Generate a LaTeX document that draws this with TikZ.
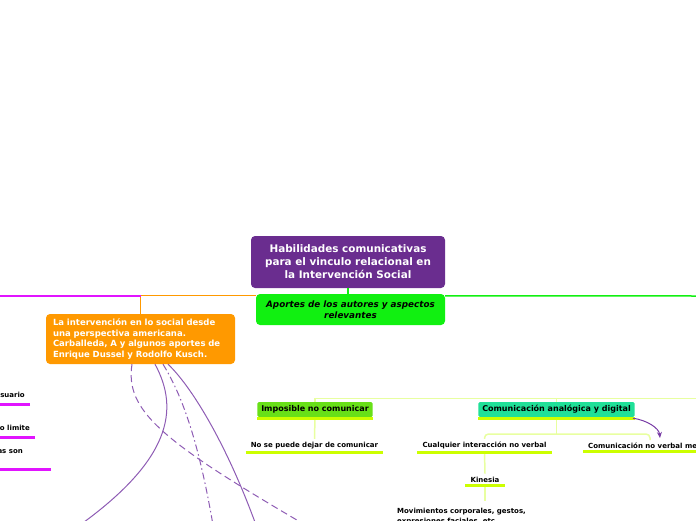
\documentclass[tikz,border=0pt]{standalone}
\usepackage{fontspec}
\setmainfont{DejaVu Sans}
\usetikzlibrary{arrows.meta}

\definecolor{habpurple}{RGB}{106,45,143}
\definecolor{habgreen}{RGB}{17,240,17}
\definecolor{haborange}{RGB}{255,153,0}
\definecolor{hablime}{RGB}{104,224,24}
\definecolor{habteal}{RGB}{32,224,152}
\definecolor{habyellow}{RGB}{204,255,0}
\definecolor{habpale}{RGB}{232,255,160}
\definecolor{habmagenta}{RGB}{225,20,255}
\definecolor{habviolet}{RGB}{142,92,180}
\definecolor{habarrowc}{RGB}{120,60,165}

\begin{document}
\begin{tikzpicture}[x=1pt,y=-1pt,
  every node/.style={font=\bfseries\fontsize{7}{9}\selectfont,inner sep=0pt},
  habbox/.style={rounded corners=4pt,align=center},
  habtag/.style={font=\bfseries\fontsize{8}{10}\selectfont,inner xsep=4pt,
    minimum height=15pt,rounded corners=1.5pt},
  hableaf/.style={inner xsep=5pt,inner ysep=3pt},
  habpaleline/.style={habpale,line width=1.5pt},
  habuline/.style={habyellow,line width=3pt},
  habmagline/.style={habmagenta,line width=3pt},
  habcurve/.style={habviolet,line width=1pt}]
\useasboundingbox (0,0) rectangle (696,520);

% central topic and main branch
\node[habbox,fill=habpurple,text=white,minimum width=194pt,minimum height=52pt,
  font=\bfseries\fontsize{10.4}{13}\selectfont] (title) at (348,262)
  {Habilidades comunicativas\\para el vinculo relacional en\\la Intervención Social};
\node[habbox,fill=habgreen,minimum width=189pt,minimum height=31pt,
  font=\bfseries\itshape\fontsize{8.8}{11}\selectfont] (aportes) at (350.5,309.5)
  {Aportes de los autores y aspectos\\relevantes};
\node[habbox,fill=haborange,text=white,align=left,text width=175pt,inner xsep=7pt,
  minimum height=50pt,font=\bfseries\fontsize{8.5}{10.7}\selectfont] (intervencion) at (140.5,339)
  {La intervención en lo social desde\\una perspectiva americana.\\Carballeda, A y algunos aportes de\\Enrique Dussel y Rodolfo Kusch.};

\coordinate (leftend) at (-5,296);
\coordinate (aportesend) at (700,296);
\draw[habgreen,line width=1.5pt] (title.south) -- (title.south |- aportes.north);
\draw[haborange,line width=1pt] ([yshift=-2pt]aportes.north west) -| (intervencion.north);
\draw[habmagenta,line width=1.5pt] (leftend) -- (intervencion.north |- leftend);
\draw[habgreen,line width=1.5pt] ([yshift=-2pt]aportes.north east) -- (aportesend);

% cut-off leaves on the left
\node[anchor=east] (usuario) at (25,395) {suario};
\node[anchor=east] (limite) at (30,428) {o limite};
\node[anchor=east] (son) at (23,452) {as son};
\draw[habmagline] ([xshift=5pt,yshift=-6.3pt]usuario.south east) -- ++(-40,0);
\draw[habmagline] ([xshift=5pt,yshift=-6.4pt]limite.south east) -- ++(-40,0);
\draw[habmagline] ([xshift=28pt,yshift=-15pt]son.south east) -- ++(-60,0);

% relations leaving the orange topic
\coordinate (endA) at (80,525);
\coordinate (endB) at (302,523);
\coordinate (endC) at (213,525);
\coordinate (endD) at (256,525);
\draw[habcurve] ([xshift=14.5pt]intervencion.south) .. controls (180,410) and (170,460) .. (endA);
\draw[habcurve,dash pattern=on 7pt off 4pt] ([xshift=-8.5pt]intervencion.south) .. controls (125,410) and (160,440) .. (endB);
\draw[habcurve,dash pattern=on 7pt off 3pt on 1.5pt off 3pt] ([xshift=22.5pt]intervencion.south) .. controls (185,400) and (200,450) .. (endC);
\draw[habcurve] ([xshift=27.5pt]intervencion.south) .. controls (190,385) and (225,440) .. (endD);

% lower right branch
\node[habtag,fill=hablime] (imposible) at (315,409.5) {Imposible no comunicar};
\node[habtag,fill=habteal] (analogica) at (556.5,409.5) {Comunicación analógica y digital};
\node[hableaf] (nopuede) at (314.5,445.5) {No se puede dejar de comunicar};
\node[hableaf] (interaccion) at (484.5,445.5) {Cualquier interacción no verbal};
\node[hableaf,anchor=west] (noverbal) at (583,445.5) {Comunicación no verbal me};
\node[hableaf] (kinesia) at (485,479.5) {Kinesia};
\node[anchor=north west,align=left,inner ysep=7pt,
  font=\bfseries\fontsize{7}{9.5}\selectfont] (movimientos) at (397,501)
  {Movimientos corporales, gestos,\\expresiones faciales, etc.};

\coordinate (branchend) at (700,398.5);
\coordinate (fork) at (556.5,434);
\coordinate (nvtop) at (650,440);
\coordinate (nvarrow) at (660,438);
\draw[habpaleline] (branchend) -| (imposible.north);
\draw[habpaleline] (analogica.north |- branchend) -- (analogica.north);
\draw[habpaleline] (imposible.south) -- (nopuede.north);
\draw[habpaleline] (analogica.south) -- (fork);
\draw[habpaleline,rounded corners=4pt] (interaccion.north) |- (fork) -| (nvtop);
\draw[habpaleline] (interaccion.south) -- (kinesia.north);
\draw[habpaleline] (kinesia.south) -- (kinesia.south |- movimientos.north);

\draw[habuline] ([yshift=-1.5pt]imposible.south west) -- ([yshift=-1.5pt]imposible.south east);
\draw[habuline] ([yshift=-1.5pt]analogica.south west) -- ([yshift=-1.5pt]analogica.south east);
\draw[habuline] (nopuede.south west) -- (nopuede.south east);
\draw[habuline] (interaccion.south west) -- (interaccion.south east);
\draw[habuline] (noverbal.south west) -- ++(120,0);
\draw[habuline] (kinesia.south west) -- (kinesia.south east);

\draw[habarrowc,line width=1pt,-{Stealth[length=6pt,width=5pt]}]
  ([xshift=-2pt,yshift=-1pt]analogica.south east) .. controls +(14,2) and +(-1,-10) .. (nvarrow);
\end{tikzpicture}
\end{document}
